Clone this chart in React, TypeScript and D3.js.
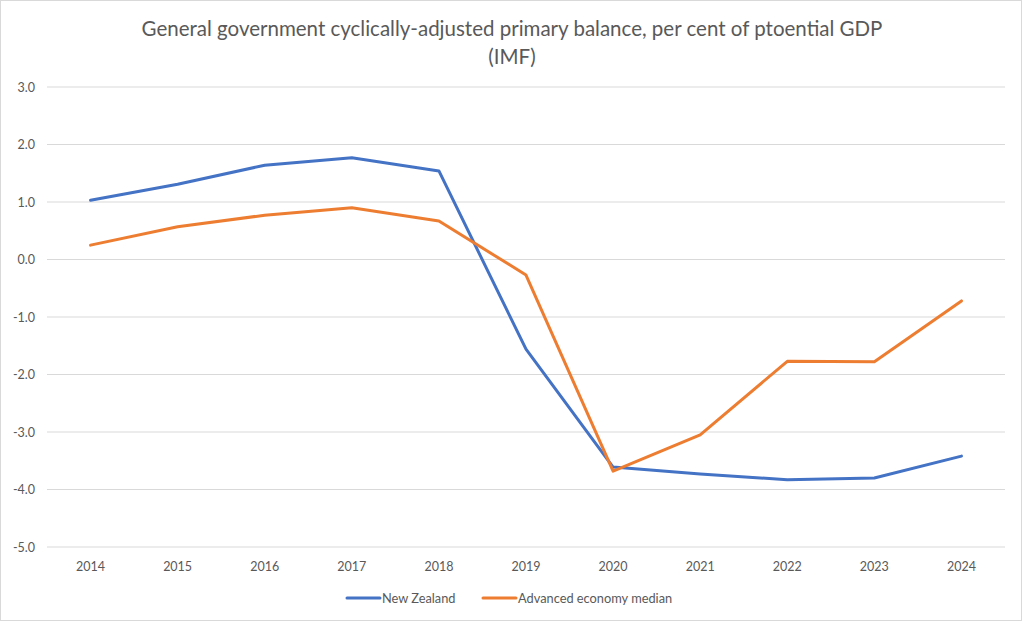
import React from "react";
import * as d3 from "d3";

const years = ["2014","2015","2016","2017","2018","2019","2020","2021","2022","2023","2024"];
const newZealand = [1.03, 1.31, 1.64, 1.77, 1.54, -1.56, -3.61, -3.73, -3.83, -3.80, -3.42];
const advancedMedian = [0.25, 0.57, 0.77, 0.90, 0.67, -0.27, -3.68, -3.05, -1.77, -1.78, -0.72];
const yTicks = [3, 2, 1, 0, -1, -2, -3, -4, -5];
const seriesNames = ["New Zealand", "Advanced economy median"];
const seriesColors = ["#4472C4", "#ED7D31"];

const W = 1023, H = 622;
const left = 47, right = 1005, top = 87, bottom = 547;
const font = "Lato, 'Open Sans', sans-serif";

export default function App() {
  const x = d3.scaleBand<string>().domain(years).range([left, right]);
  const y = d3.scaleLinear().domain([-5, 3]).range([bottom, top]);
  const line = d3.line<number>()
    .x((_, i) => (x(years[i]) as number) + x.bandwidth() / 2)
    .y((d) => y(d));
  const series = [newZealand, advancedMedian];
  const legendX = [347, 483];
  return (
    <svg width={W} height={H} style={{ position: "absolute", left: 0, top: 0 }}>
      <rect x={0.5} y={0.5} width={W - 2} height={H - 2} fill="#fff" stroke="#d9d9d9" />
      <text x={512} y={36} textAnchor="middle" fontFamily={font} fontSize={20.5} fill="#595959">
        General government cyclically-adjusted primary balance, per cent of ptoential GDP
      </text>
      <text x={512} y={64} textAnchor="middle" fontFamily={font} fontSize={20.5} fill="#595959">(IMF)</text>
      {yTicks.map((t) => (
        <g key={t}>
          <line x1={left} x2={right} y1={y(t)} y2={y(t)} stroke="#d9d9d9" strokeWidth={1} />
          <text x={35} y={y(t) + 4.5} textAnchor="end" fontFamily={font} fontSize={12.5} fill="#595959">
            {t.toFixed(1)}
          </text>
        </g>
      ))}
      {years.map((yr) => (
        <text key={yr} x={(x(yr) as number) + x.bandwidth() / 2} y={571} textAnchor="middle"
          fontFamily={font} fontSize={12.5} fill="#595959">{yr}</text>
      ))}
      {series.map((s, i) => (
        <path key={i} d={line(s) as string} fill="none" stroke={seriesColors[i]} strokeWidth={3}
          strokeLinejoin="round" strokeLinecap="round" />
      ))}
      {seriesNames.map((n, i) => (
        <g key={n}>
          <line x1={legendX[i]} x2={legendX[i] + 33} y1={598} y2={598} stroke={seriesColors[i]} strokeWidth={3} strokeLinecap="round" />
          <text x={legendX[i] + 35} y={602.5} fontFamily={font} fontSize={12.8} fill="#595959">{n}</text>
        </g>
      ))}
    </svg>
  );
}
